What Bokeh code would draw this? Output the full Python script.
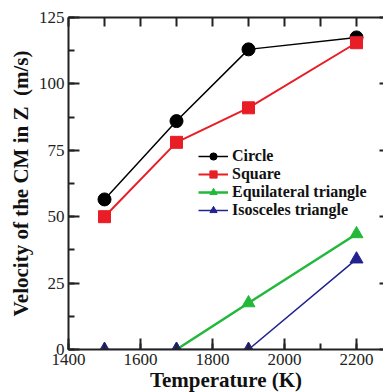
from bokeh.plotting import figure
from bokeh.models import LinearAxis, SingleIntervalTicker, FixedTicker, Range1d, Legend, LegendItem
from bokeh.embed import file_html
from bokeh.resources import INLINE

temps = [1500, 1700, 1900, 2200]
circle = [56.5, 86, 113, 117.5]
square = [50, 78, 91, 115.5]
equil_t = [1700, 1900, 2200]
equil = [0, 17.5, 43.5]
iso = [0, 0, 0, 34]

x_start, x_end = 1400, 2275
y_start, y_end = 0, 125
x_major = 200
y_major = 25

FONT = "Liberation Serif"

p = figure(frame_width=315, frame_height=332, output_backend="svg", toolbar_location=None,
           x_range=Range1d(x_start, x_end), y_range=Range1d(y_start, y_end),
           min_border_left=68, min_border_right=0, min_border_top=17, min_border_bottom=43,
           x_axis_location=None, y_axis_location=None)
p.outline_line_color = None
p.grid.visible = False
p.background_fill_color = "white"
p.border_fill_color = "white"

def style(ax):
    ax.axis_line_width = 2
    ax.axis_line_color = "#222222"
    ax.major_tick_line_width = 2
    ax.minor_tick_line_width = 2
    ax.major_tick_line_color = "#222222"
    ax.minor_tick_line_color = "#222222"
    ax.major_tick_out = 0
    ax.minor_tick_out = 0
    ax.major_tick_in = 11
    ax.minor_tick_in = 6
    ax.major_label_text_font = FONT
    ax.major_label_text_font_size = "17px"
    ax.major_label_text_color = "#222222"
    ax.axis_label_text_font = FONT
    ax.axis_label_text_font_style = "bold"
    ax.axis_label_text_font_size = "21px"
    ax.axis_label_text_color = "#111111"

bottom = LinearAxis(ticker=SingleIntervalTicker(interval=x_major, num_minor_ticks=2),
                    axis_label="Temperature (K)")
style(bottom)
bottom.major_label_standoff = 4
bottom.axis_label_standoff = 0
p.add_layout(bottom, "below")

# top axis: ticks only, no labels
top_ticks = list(range(x_start, 2201, x_major // 2))
top = LinearAxis(ticker=FixedTicker(ticks=[], minor_ticks=top_ticks))
style(top)
top.minor_tick_in = 9
p.add_layout(top, "above")

left = LinearAxis(ticker=SingleIntervalTicker(interval=y_major, num_minor_ticks=2),
                  axis_label="Velocity of the CM in Z\u00a0 (m/s)")
style(left)
left.major_label_standoff = 4
left.axis_label_standoff = 3
p.add_layout(left, "left")

right_ticks = list(range(y_start, y_end + 1, y_major))
right = LinearAxis(ticker=FixedTicker(ticks=[], minor_ticks=right_ticks))
style(right)
right.axis_line_color = None
right.minor_tick_in = 4
p.add_layout(right, "right")

BLACK = "#000000"
RED = "#e81d25"
GREEN = "#22b83a"
BLUE = "#23238f"

l1 = p.line(temps, circle, line_color=BLACK, line_width=1.5)
m1 = p.scatter(temps, circle, marker="circle", size=13, fill_color=BLACK, line_color=BLACK)
l2 = p.line(temps, square, line_color=RED, line_width=2)
m2 = p.scatter(temps, square, marker="square", size=12, fill_color=RED, line_color=RED)
l3 = p.line(equil_t, equil, line_color=GREEN, line_width=2.5)
m3 = p.scatter(equil_t, equil, marker="triangle", size=13, fill_color=GREEN, line_color=GREEN)
l4 = p.line(temps, iso, line_color=BLUE, line_width=1.5)
m4 = p.scatter(temps, iso, marker="triangle", size=13, fill_color=BLUE, line_color=BLUE)

legend = Legend(items=[
    LegendItem(label="Circle", renderers=[l1, m1]),
    LegendItem(label="Square", renderers=[l2, m2]),
    LegendItem(label="Equilateral triangle", renderers=[l3, m3]),
    LegendItem(label="Isosceles triangle", renderers=[l4, m4]),
], location=(130, 130))
legend.background_fill_alpha = 0
legend.border_line_color = None
legend.padding = 0
legend.margin = 0
legend.spacing = 0
legend.glyph_width = 30
legend.glyph_height = 18
legend.label_standoff = 4
legend.label_text_font = FONT
legend.label_text_font_style = "bold"
legend.label_text_font_size = "16px"
legend.label_text_color = "#111111"
legend.label_height = 18
p.add_layout(legend, "center")

open("out.html", "w").write(file_html(p, INLINE))
